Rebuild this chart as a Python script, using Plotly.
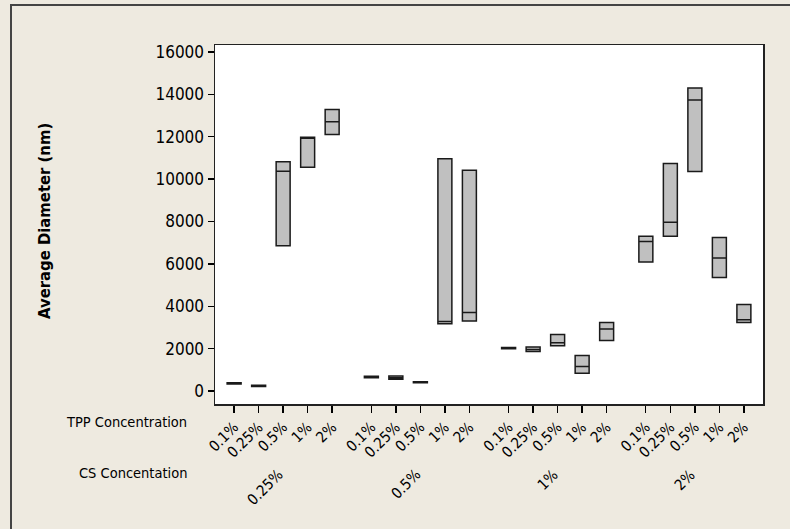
import plotly.graph_objects as go

# ---- data ----
tpp_labels = ["0.1%", "0.25%", "0.5%", "1%", "2%"]
cs_labels = ["0.25%", "0.5%", "1%", "2%"]

box_low = [330, 210, 6860, 10560, 12110,
           620, 550, 390, 3170, 3300,
           1990, 1860, 2130, 840, 2380,
           6090, 7300, 10360, 5360, 3230]
box_median = [360, 240, 10370, 11930, 12710,
              650, 620, 410, 3280, 3700,
              2020, 1960, 2280, 1150, 2920,
              7060, 7960, 13730, 6280, 3360]
box_high = [390, 270, 10820, 11970, 13280,
            690, 710, 430, 10960, 10420,
            2050, 2080, 2660, 1670, 3230,
            7300, 10740, 14300, 7240, 4080]

y_ticks = [0, 2000, 4000, 6000, 8000, 10000, 12000, 14000, 16000]
y_tick_text = ["0", "2000", "4000", "6000", "8000", "10000", "12000", "14000", "16000"]

# ---- layout helpers ----
GAP = 1.6
n_tpp = len(tpp_labels)
positions = []
tick_text = []
group_centers = []
for g, cs in enumerate(cs_labels):
    base = g * (n_tpp - 1 + GAP)
    for i, t in enumerate(tpp_labels):
        positions.append(base + i)
        tick_text.append(t)
    group_centers.append(base + (n_tpp - 1) / 2)

FONT = "DejaVu Sans Condensed, DejaVu Sans, sans-serif"
BG = "#EEEAE0"

W, H = 790, 529
ML, MR, MT, MB = 215, 27, 45, 125
PW, PH = W - ML - MR, H - MT - MB


def px_to_paper_x(px):
    return (px - ML) / PW


def px_to_paper_y(py):
    return (H - MB - py) / PH


fig = go.Figure()
fig.add_trace(go.Box(
    x=positions,
    q1=box_low,
    median=box_median,
    q3=box_high,
    lowerfence=box_low,
    upperfence=box_high,
    width=0.57,
    whiskerwidth=0,
    fillcolor="#C0C0C0",
    line=dict(color="#1a1a1a", width=1.5),
    boxpoints=False,
    hoverinfo="skip",
    showlegend=False,
))

annotations = [
    dict(text="Average Diameter (nm)", xref="paper", yref="paper",
         x=px_to_paper_x(45), y=0.51, textangle=-90, showarrow=False,
         xanchor="center", yanchor="middle",
         font=dict(family=FONT, size=16.5, color="black", weight="bold")),
    dict(text="TPP Concentration", xref="paper", yref="paper",
         x=px_to_paper_x(189), y=px_to_paper_y(422), showarrow=False,
         xanchor="right", yanchor="middle",
         font=dict(family=FONT, size=14.5, color="black")),
    dict(text="CS Concentation", xref="paper", yref="paper",
         x=px_to_paper_x(189), y=px_to_paper_y(473), showarrow=False,
         xanchor="right", yanchor="middle",
         font=dict(family=FONT, size=14.5, color="black")),
]
for gc, lab in zip(group_centers, cs_labels):
    annotations.append(dict(
        text=lab, xref="x", yref="paper", x=gc, y=px_to_paper_y(463),
        xshift=7,
        textangle=-45, showarrow=False, xanchor="right", yanchor="top",
        font=dict(family=FONT, size=15, color="black")))

shapes = [
    dict(type="line", xref="paper", yref="paper",
         x0=px_to_paper_x(10), x1=px_to_paper_x(790),
         y0=px_to_paper_y(5), y1=px_to_paper_y(5),
         line=dict(color="#444444", width=2)),
    dict(type="line", xref="paper", yref="paper",
         x0=px_to_paper_x(11), x1=px_to_paper_x(11),
         y0=px_to_paper_y(4), y1=px_to_paper_y(529),
         line=dict(color="#444444", width=2)),
]

fig.update_layout(
    width=W, height=H,
    margin=dict(l=ML, r=MR, t=MT, b=MB),
    paper_bgcolor=BG,
    plot_bgcolor="white",
    font=dict(family=FONT, color="black"),
    showlegend=False,
    annotations=annotations,
    shapes=shapes,
    xaxis=dict(
        range=[-0.78, positions[-1] + 0.78],
        tickmode="array", tickvals=positions, ticktext=tick_text,
        tickangle=-45, ticks="outside", ticklen=7, tickcolor="black",
        tickwidth=1.3,
        tickfont=dict(family=FONT, size=15, color="black"),
        showgrid=False, zeroline=False,
        showline=True, linecolor="#222222", linewidth=1.5, mirror=True,
        automargin=False,
    ),
    yaxis=dict(
        range=[-615, 16330],
        tickmode="array", tickvals=y_ticks, ticktext=y_tick_text,
        ticks="outside", ticklen=6, tickcolor="black", tickwidth=1.3,
        tickfont=dict(family=FONT, size=17, color="black"),
        showgrid=False, zeroline=False,
        showline=True, linecolor="#222222", linewidth=1.5, mirror=True,
        automargin=False,
    ),
)

fig.write_html(
    "out.html",
    config={"displayModeBar": False, "staticPlot": True},
    post_script="document.body.style.margin='0';document.body.style.overflow='hidden';",
)
